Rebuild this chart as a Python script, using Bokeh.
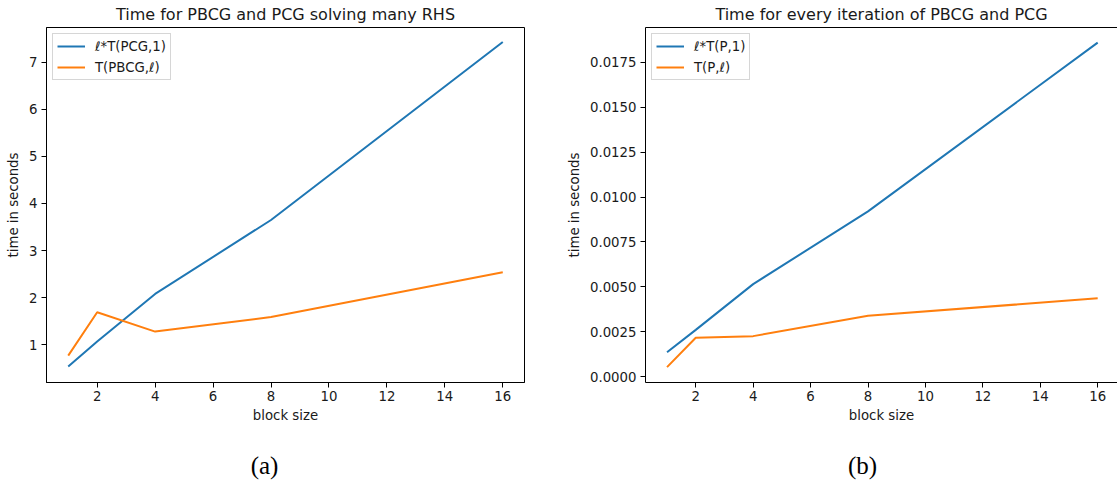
from bokeh.plotting import figure
from bokeh.layouts import row, column
from bokeh.models import FixedTicker, PrintfTickFormatter, Range1d, LinearAxis, Legend, LegendItem
from bokeh.core.properties import value
from bokeh.embed import file_html
from bokeh.resources import INLINE

# ---- data ----
block_sizes = [1, 2, 4, 8, 16]
a_ell_pcg = [0.54, 1.07, 2.08, 3.65, 7.43]
a_pbcg = [0.77, 1.69, 1.28, 1.59, 2.54]
b_ell_p = [0.00135, 0.0026, 0.00515, 0.0092, 0.01861]
b_p = [0.00052, 0.00216, 0.00225, 0.00338, 0.00436]

x_ticks = [2, 4, 6, 8, 10, 12, 14, 16]
a_y_ticks = [1, 2, 3, 4, 5, 6, 7]
b_y_ticks = [0.0, 0.0025, 0.005, 0.0075, 0.01, 0.0125, 0.015, 0.0175]

title_a = "Time for PBCG and PCG solving many RHS"
title_b = "Time for every iteration of PBCG and PCG"
labels_a = ["\u2113*T(PCG,1)", "T(PBCG,\u2113)"]
labels_b = ["\u2113*T(P,1)", "T(P,\u2113)"]
x_label = "block size"
y_label = "time in seconds"
captions = ["(a)", "(b)"]

BLUE = "#1f77b4"
ORANGE = "#ff7f0e"
FONT = "DejaVu Sans"
TXT = "#1a1a1a"
PLOT_H = 447
CAP_H = 38
TOTAL_W = 1117


def style_axis(ax):
    ax.major_tick_out = 5
    ax.major_tick_in = 0
    ax.minor_tick_out = 0
    ax.minor_tick_in = 0
    ax.major_tick_line_color = "black"
    ax.major_tick_line_width = 1
    ax.axis_line_color = "black"
    ax.axis_line_width = 1
    ax.major_label_text_font = FONT
    ax.major_label_text_font_size = "13.3px"
    ax.major_label_text_color = TXT
    ax.axis_label_text_font = FONT
    ax.axis_label_text_font_size = "13.3px"
    ax.axis_label_text_font_style = "normal"
    ax.axis_label_text_color = TXT


def make_panel(width, border_left, border_right, x_end, y_range, y_ticks, ys, labels,
               title, fmt=None, outline=True):
    p = figure(width=width, height=PLOT_H, output_backend="svg", toolbar_location=None,
               x_range=Range1d(0.25, x_end), y_range=y_range,
               min_border_left=border_left, min_border_right=border_right,
               min_border_top=27, min_border_bottom=65)
    p.title.text = title
    p.title.align = "center"
    p.title.vertical_align = "middle"
    p.title.text_font = FONT
    p.title.text_font_size = "16px"
    p.title.text_font_style = "normal"
    p.title.text_color = TXT
    p.title.standoff = 6
    p.grid.visible = False
    p.background_fill_color = "white"
    p.border_fill_color = "white"

    xax = p.below[0]
    yax = p.left[0]
    xax.ticker = FixedTicker(ticks=x_ticks)
    yax.ticker = FixedTicker(ticks=y_ticks)
    if fmt:
        yax.formatter = PrintfTickFormatter(format=fmt)
    xax.axis_label = x_label
    yax.axis_label = y_label
    style_axis(xax)
    style_axis(yax)
    xax.major_label_standoff = 3
    xax.axis_label_standoff = 4
    yax.major_label_standoff = 4
    yax.axis_label_standoff = 5

    if outline:
        p.outline_line_color = "black"
        p.outline_line_width = 1
    else:
        p.outline_line_color = None
        top = LinearAxis(ticker=FixedTicker(ticks=[]), major_tick_out=0, major_tick_in=0,
                         minor_tick_out=0, minor_tick_in=0, major_label_standoff=0,
                         major_label_text_font_size="0px", axis_line_color="black",
                         axis_line_width=1)
        p.add_layout(top, "above")

    r1 = p.line(block_sizes, ys[0], line_color=BLUE, line_width=2)
    r2 = p.line(block_sizes, ys[1], line_color=ORANGE, line_width=2)
    leg = Legend(items=[LegendItem(label=labels[0], renderers=[r1]),
                        LegendItem(label=labels[1], renderers=[r2])],
                 location="top_left", margin=6, padding=4, spacing=5,
                 label_height=16, glyph_height=16, glyph_width=28, label_standoff=10,
                 label_text_font=FONT, label_text_font_size="13.3px", label_text_color=TXT,
                 border_line_color="#cccccc", border_line_alpha=0.8, border_line_width=1,
                 background_fill_color="white", background_fill_alpha=0.8)
    p.add_layout(leg, "center")
    return p


p1 = make_panel(560, 46, 36, 16.75, Range1d(0.199, 7.737), a_y_ticks,
                [a_ell_pcg, a_pbcg], labels_a, title_a)
p2 = make_panel(557, 85, 0, 16.69, Range1d(-0.000334, 0.01945), b_y_ticks,
                [b_ell_p, b_p], labels_b, title_b, fmt="%.4f", outline=False)

# caption strip below the two panels (pixel-based ranges)
cap = figure(width=TOTAL_W, height=CAP_H, output_backend="svg", toolbar_location=None,
             x_range=Range1d(0, TOTAL_W), y_range=Range1d(0, CAP_H),
             x_axis_type=None, y_axis_type=None, min_border=0)
cap.outline_line_color = None
cap.grid.visible = False
cap.text(x=[264, 862], y=[CAP_H - 18, CAP_H - 18], text=captions,
         text_align="center", text_baseline="middle",
         text_font=value("Liberation Serif"), text_font_size="25px", text_color="black")

layout = column(row(p1, p2), cap)
open("out.html", "w").write(file_html(layout, INLINE))
